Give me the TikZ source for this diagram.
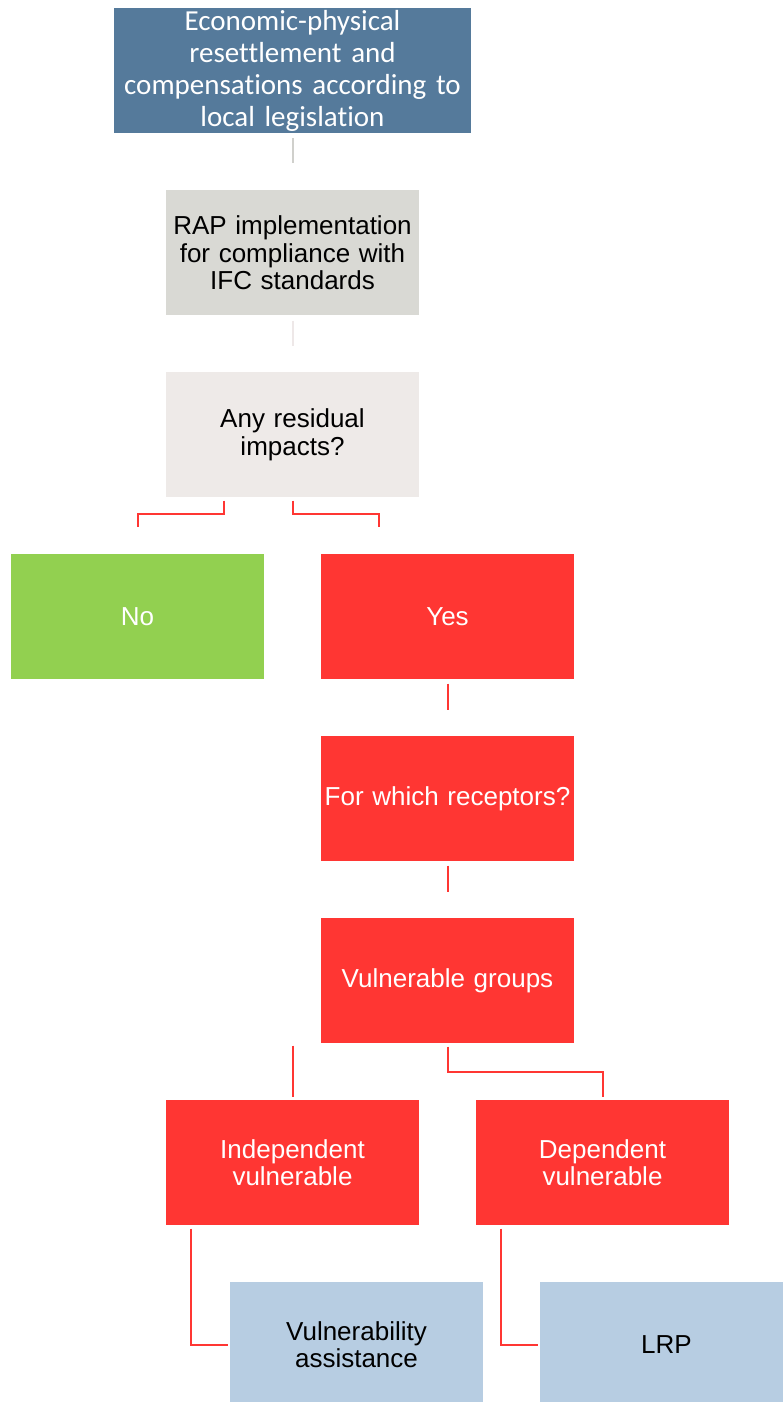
\documentclass[tikz,border=0pt]{standalone}
\usepackage{fontspec}
\setmainfont{Liberation Sans}
\newfontfamily\calibrifont[Ligatures=NoCommon]{Carlito}
\usepackage{xcolor}
\usepackage{tikz}
\usetikzlibrary{positioning}
\definecolor{legisblue}{HTML}{557A9B}
\definecolor{rapgrey}{HTML}{D9D9D4}
\definecolor{residgrey}{HTML}{EEEAE8}
\definecolor{nogreen}{HTML}{92D050}
\definecolor{alertred}{HTML}{FF3633}
\definecolor{planblue}{HTML}{B7CDE2}
\definecolor{linkgrey}{HTML}{D0D0CC}
\definecolor{linkpale}{HTML}{EEE8E8}
\tikzstyle{box} = [rectangle, 
minimum width=253bp, 
minimum height=125bp, 
inner sep=0pt, 
text width=253bp, 
align=center, 
font=\fontsize{26bp}{27.5bp}\selectfont]
\tikzstyle{topbox} = [box, 
minimum width=357bp, 
text width=357bp, 
fill=legisblue, 
text=white, 
font=\calibrifont\fontsize{29bp}{32bp}\selectfont]
\tikzstyle{redbox} = [box, fill=alertred, text=white]
\tikzstyle{greenbox} = [box, fill=nogreen, text=white]
\tikzstyle{bluebox} = [box, fill=planblue]
\tikzstyle{link} = [line width=2bp, draw=alertred]

\begin{document}
\begin{tikzpicture}[x=1bp, y=1bp]
			\useasboundingbox (0,0) rectangle (782,-1402);
			\node (legis)[topbox] at (292.5,-70.5) {Economic-physical\\resettlement and\\compensations according to\\local legislation};
			
			\node (rap)[box, fill=rapgrey, below=57bp of legis] {RAP implementation\\for compliance with\\IFC standards};
			\draw [line width=2bp, draw=linkgrey] ([yshift=-5bp]legis.south) -- ++(0,-25);
			
			\node (residual)[box, fill=residgrey, below=56.6bp of rap] {Any residual\\impacts?};
			\draw [line width=2bp, draw=linkpale] ([yshift=-5bp]rap.south) -- ++(0,-25);
			
			\node (no)[greenbox, below=56.6bp of residual, xshift=-155bp] {No};
			\node (yes)[redbox, below=56.6bp of residual, xshift=155bp] {Yes};
			\draw [link] ([xshift=-69bp,yshift=-3bp]residual.south) -- ++(0,-13) -| ([yshift=27bp]no.north);
			\draw [link] ([yshift=-3bp]residual.south) -- ++(0,-13) -| ([xshift=-69bp,yshift=27bp]yes.north);
			
			\node (receptors)[redbox, below=56.6bp of yes] {For which receptors?};
			\draw [link] ([yshift=-4bp]yes.south) -- ++(0,-26);
			
			\node (groups)[redbox, below=56.6bp of receptors] {Vulnerable groups};
			\draw [link] ([yshift=-4bp]receptors.south) -- ++(0,-26);
			
			\node (indep)[redbox, below=56.6bp of groups, xshift=-155bp] {Independent\\vulnerable};
			\node (dep)[redbox, below=56.6bp of groups, xshift=155bp] {Dependent\\vulnerable};
			\draw [link] ([xshift=-155bp,yshift=-2bp]groups.south) -- ([yshift=3bp]indep.north);
			\draw [link] ([yshift=-3bp]groups.south) -- ++(0,-25) -| ([yshift=3bp]dep.north);
			
			\node (assist)[bluebox, below=56.6bp of indep, xshift=64bp] {Vulnerability\\assistance};
			\node (lrp)[bluebox, below=56.6bp of dep, xshift=64bp] {LRP};
			\draw [link] ([xshift=-102bp,yshift=-3bp]indep.south) |- ([xshift=-2bp]assist.west);
			\draw [link] ([xshift=-102bp,yshift=-3bp]dep.south) |- ([xshift=-2bp]lrp.west);
		\end{tikzpicture}
\end{document}
